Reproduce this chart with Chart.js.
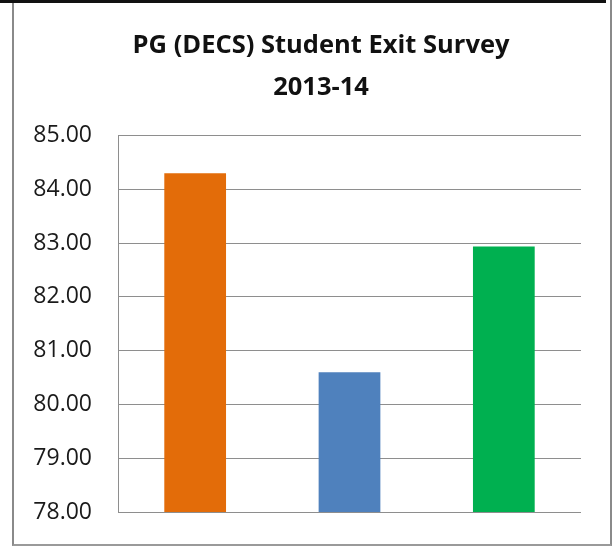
<!DOCTYPE html>
<html>
<head>
<meta charset="utf-8">
<script src="https://cdn.jsdelivr.net/npm/chart.js@4/dist/chart.umd.min.js"></script>
<style>
  body { margin: 0; background: #fff; }
  #wrap { position: relative; width: 614px; height: 546px; }
  #chart { position: absolute; left: 0; top: 0; }
  .topline { position: absolute; left: 0; top: 0; width: 606px; height: 3px; background: #111; }
  .frame {
    position: absolute; left: 12px; top: 0; width: 596px; height: 544px;
    border-left: 2px solid #8a8a8a; border-right: 2px solid #8a8a8a; border-bottom: 2px solid #9a9a9a;
    pointer-events: none;
  }
</style>
</head>
<body>
<div id="wrap">
  <canvas id="chart" width="614" height="546"></canvas>
  <div class="frame"></div>
  <div class="topline"></div>
</div>
<script>
// Data
const categories = ['', '', ''];
const scores = [84.3, 80.6, 82.94];
const barColors = ['#e36c09', '#4f81bd', '#00b050'];
const titleLines = ['PG (DECS) Student Exit Survey', '2013-14'];
const yMin = 78;
const yMax = 85;

// Title sits a bit right of the canvas centre, like the Excel original
const shiftTitle = {
  id: 'shiftTitle',
  afterLayout: (chart) => {
    chart.titleBlock.left = chart.chartArea.left - 57;
  },
};

const buildChart = () => {
  const ctx = document.getElementById('chart').getContext('2d');

  const myChart = new Chart(ctx, {
    type: 'bar',
    data: {
      labels: categories,
      datasets: [
        {
          data: scores,
          backgroundColor: barColors,
          borderWidth: 0,
          categoryPercentage: 1,
          barPercentage: 0.4,
        },
      ],
    },
    plugins: [shiftTitle],
    options: {
      responsive: false,
      animation: false,
      layout: {
        padding: { left: 24, right: 33, top: 4, bottom: 34 },
      },
      plugins: {
        legend: { display: false },
        tooltip: { enabled: false },
        title: {
          display: true,
          text: titleLines,
          color: '#111',
          font: { family: 'Open Sans', size: 25.5, weight: 'bold', lineHeight: 1.64 },
          padding: { top: 21, bottom: 27 },
        },
      },
      scales: {
        x: {
          display: false,
        },
        y: {
          min: yMin,
          max: yMax,
          afterFit: (scale) => {
            scale.width = 94;
          },
          border: { display: true, color: '#8e8e8e', width: 1 },
          grid: {
            color: '#8e8e8e',
            lineWidth: 1,
            drawTicks: true,
            tickLength: 26,
            tickColor: 'rgba(0,0,0,0)',
          },
          ticks: {
            stepSize: 1,
            padding: 0,
            color: '#1a1a1a',
            font: { family: 'Open Sans', size: 23 },
            callback: (v) => v.toFixed(2),
          },
        },
      },
    },
  });
};

buildChart();
</script>
</body>
</html>
